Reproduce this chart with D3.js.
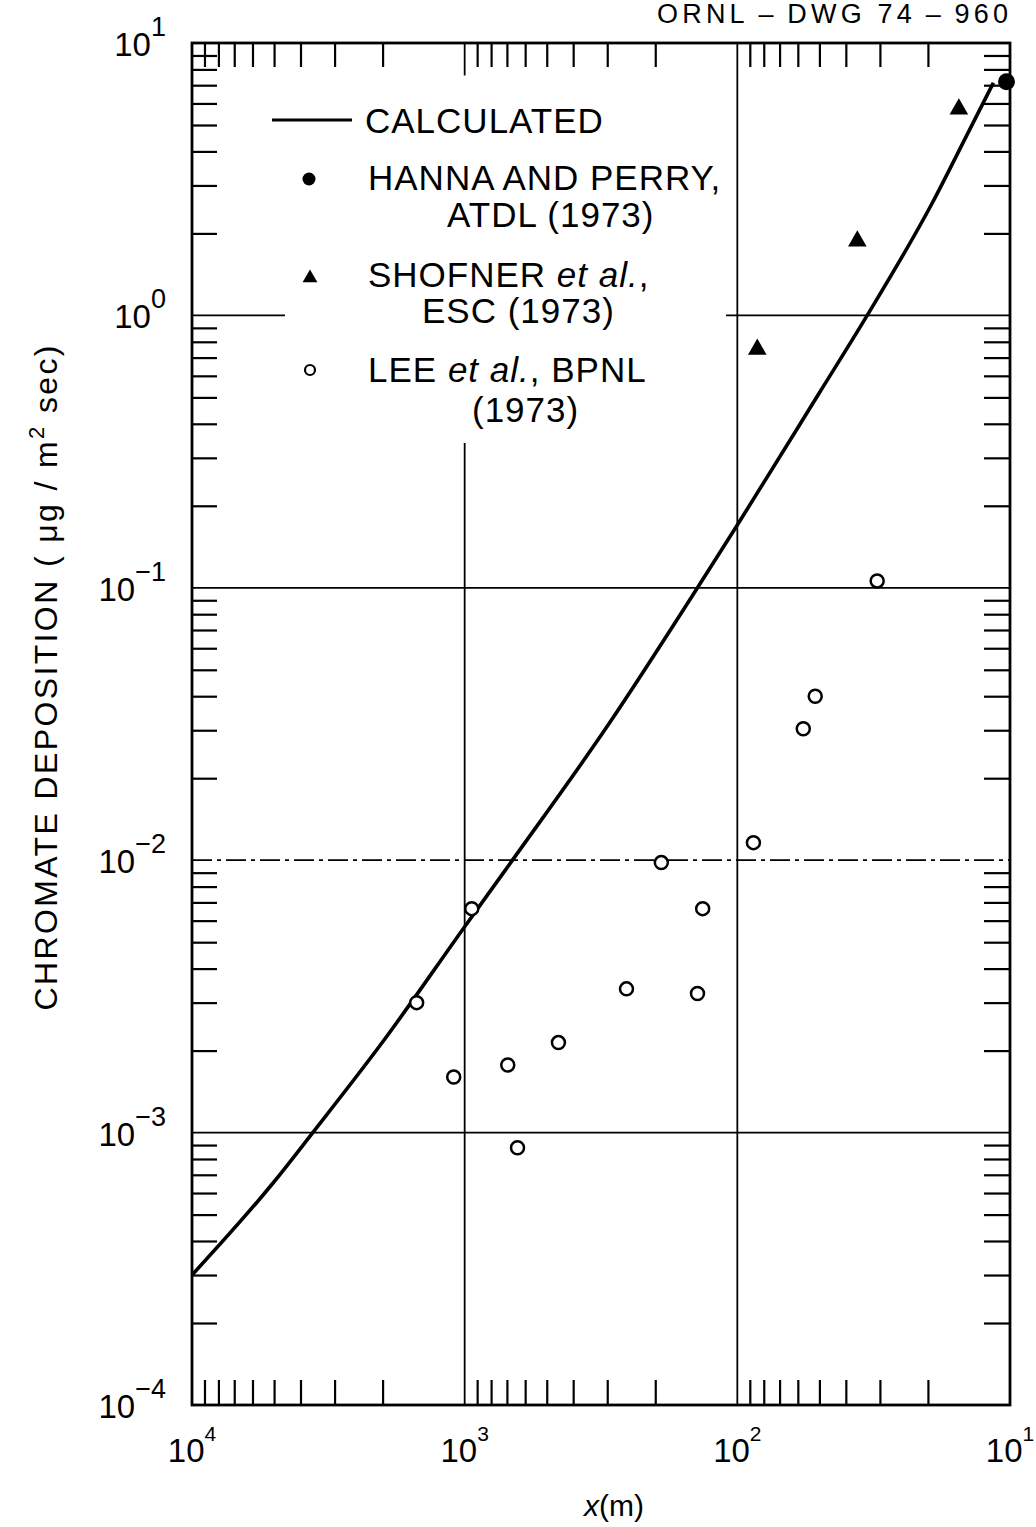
<!DOCTYPE html>
<html>
<head>
<meta charset="utf-8">
<script src="https://cdn.jsdelivr.net/npm/d3@7"></script>
<style>
  html, body { margin: 0; padding: 0; background: #fff; }
  svg { display: block; }
  text { font-family: "Liberation Sans", Arial, sans-serif; fill: #000; }
</style>
</head>
<body>
<svg id="chart" width="1036" height="1527"></svg>
<script>
// Calculated chromate deposition vs. downwind distance x (m)
const calcX = [10000, 5000, 3606, 2000, 1000, 673, 300, 140, 100, 50, 33.4, 19.3, 14.5, 11.5];
const calcY = [0.0003, 0.00066, 0.001, 0.00215, 0.0057, 0.0099, 0.031, 0.1, 0.17, 0.52, 1.0, 2.58, 4.52, 7.15];

// Hanna and Perry, ATDL (1973)
const hannaX = [10.3];
const hannaY = [7.2];

// Shofner et al., ESC (1973)
const shofnerX = [15.4, 36.3, 84.5];
const shofnerY = [5.77, 1.89, 0.757];

// Lee et al., BPNL (1973)
const leeX = [30.7, 51.8, 57.3, 87.3, 190, 942, 134, 1500, 255, 140, 453, 695, 1097, 640];
const leeY = [0.106, 0.040, 0.0304, 0.0116, 0.0098, 0.00664, 0.00664, 0.0030, 0.00337, 0.00324, 0.00214, 0.00177, 0.0016, 0.00088];

// Decade tick labels (exponents)
const xDecades = [4, 3, 2, 1];
const yDecades = [1, 0, -1, -2, -3, -4];

const svg = d3.select("#chart");

const X0 = 192, X1 = 1010, Y0 = 43, Y1 = 1405;
const x = d3.scaleLog().domain([1e4, 10]).range([X0, X1]);
const y = d3.scaleLog().domain([10, 1e-4]).range([Y0, Y1]);

const isDecade = v => Math.abs(Math.log10(v) - Math.round(Math.log10(v))) < 1e-9;
const xMinor = x.ticks().filter(v => !isDecade(v));
const yMinor = y.ticks().filter(v => !isDecade(v));

// Grid lines at selected decades
const grid = svg.append("g").attr("stroke", "#000").attr("fill", "none");
function hLine(v, xa, xb, dash) {
  const l = grid.append("line")
    .attr("x1", x(xa)).attr("x2", x(xb))
    .attr("y1", y(v)).attr("y2", y(v))
    .attr("stroke-width", 1.8);
  if (dash) l.attr("stroke-dasharray", dash);
}
function vLine(v, ya, yb) {
  grid.append("line")
    .attr("x1", x(v)).attr("x2", x(v))
    .attr("y1", y(ya)).attr("y2", y(yb))
    .attr("stroke-width", 1.8);
}
hLine(1, 1e4, 4560);
hLine(1, 110, 10);
hLine(0.1, 1e4, 10);
hLine(0.01, 1e4, 10, "20,5,4,5");
hLine(0.001, 1e4, 10);
vLine(1000, 0.34, 1e-4);
vLine(1000, 10, 7.6);
vLine(100, 10, 1e-4);

// Inward minor ticks on all four sides
function tickAxis(axis, tx, ty) {
  const g = svg.append("g").attr("transform", `translate(${tx},${ty})`).call(axis);
  g.select(".domain").remove();
  g.selectAll("text").remove();
  g.selectAll("line").attr("stroke", "#000").attr("stroke-width", 2.2);
}
tickAxis(d3.axisBottom(x).tickValues(xMinor).tickSize(-25).tickFormat(""), 0, Y1);
tickAxis(d3.axisTop(x).tickValues(xMinor).tickSize(-24).tickFormat(""), 0, Y0);
tickAxis(d3.axisLeft(y).tickValues(yMinor).tickSize(-25).tickFormat(""), X0, 0);
tickAxis(d3.axisRight(y).tickValues(yMinor).tickSize(-26).tickFormat(""), X1, 0);

// Plot frame
svg.append("rect")
  .attr("x", X0).attr("y", Y0)
  .attr("width", X1 - X0).attr("height", Y1 - Y0)
  .attr("fill", "none").attr("stroke", "#000").attr("stroke-width", 2.8);

// Decade labels
const xl = svg.append("g");
xDecades.forEach(e => {
  const t = xl.append("text")
    .attr("x", x(Math.pow(10, e))).attr("y", 1462)
    .attr("text-anchor", "middle")
    .style("font-size", "33px");
  t.append("tspan").text("10");
  t.append("tspan").attr("dy", -21).style("font-size", "21px").text(String(e));
});
const yl = svg.append("g");
yDecades.forEach(e => {
  const t = yl.append("text")
    .attr("x", 166).attr("y", y(Math.pow(10, e)) + 13)
    .attr("text-anchor", "end")
    .style("font-size", "33px");
  t.append("tspan").text("10");
  t.append("tspan").attr("dy", -20).style("font-size", "27px")
    .text(e < 0 ? "\u2212" + (-e) : String(e));
});

// Axis titles
const xt = svg.append("text")
  .attr("x", 614).attr("y", 1516)
  .attr("text-anchor", "middle")
  .style("font-size", "30px");
xt.append("tspan").style("font-style", "italic").text("x");
xt.append("tspan").text("(m)");

const yt = svg.append("text")
  .attr("transform", "translate(57,678) rotate(-90)")
  .attr("text-anchor", "middle")
  .attr("textLength", 665)
  .attr("lengthAdjust", "spacing")
  .style("font-size", "32px");
yt.append("tspan").text("CHROMATE DEPOSITION  ( \u03bcg / m");
yt.append("tspan").attr("dy", -13).style("font-size", "22px").text("2");
yt.append("tspan").attr("dy", 13).text(" sec)");

// Drawing number
svg.append("text")
  .attr("x", 657).attr("y", 23)
  .attr("textLength", 351)
  .attr("lengthAdjust", "spacing")
  .style("font-size", "27px")
  .text("ORNL\u2009\u2013\u2009DWG 74\u2009\u2013\u2009960");

// Calculated curve
const calc = calcX.map((v, i) => [v, calcY[i]]);
svg.append("path")
  .datum(calc)
  .attr("fill", "none").attr("stroke", "#000").attr("stroke-width", 3.6)
  .attr("d", d3.line().x(d => x(d[0])).y(d => y(d[1])).curve(d3.curveMonotoneX));

// Observations
const triangle = d3.symbol().type(d3.symbolTriangle);
svg.append("g").selectAll("path")
  .data(shofnerX.map((v, i) => [v, shofnerY[i]]))
  .join("path")
  .attr("d", triangle.size(150)())
  .attr("transform", d => `translate(${x(d[0])},${y(d[1]) + 1})`)
  .attr("fill", "#000");

svg.append("g").selectAll("circle")
  .data(hannaX.map((v, i) => [v, hannaY[i]]))
  .join("circle")
  .attr("cx", d => x(d[0])).attr("cy", d => y(d[1]))
  .attr("r", 8.5).attr("fill", "#000");

svg.append("g").selectAll("circle")
  .data(leeX.map((v, i) => [v, leeY[i]]))
  .join("circle")
  .attr("cx", d => x(d[0])).attr("cy", d => y(d[1]))
  .attr("r", 6.5).attr("fill", "#fff")
  .attr("stroke", "#000").attr("stroke-width", 2.5);

// Legend
const lg = svg.append("g").style("font-size", "35px").style("letter-spacing", "1px");
lg.append("line").attr("x1", 272).attr("x2", 352).attr("y1", 120).attr("y2", 120)
  .attr("stroke", "#000").attr("stroke-width", 3.2);
lg.append("text").attr("x", 365).attr("y", 133).text("CALCULATED");

lg.append("circle").attr("cx", 309).attr("cy", 179).attr("r", 6.5).attr("fill", "#000");
lg.append("text").attr("x", 368).attr("y", 190).text("HANNA AND PERRY,");
lg.append("text").attr("x", 447).attr("y", 227).text("ATDL (1973)");

lg.append("path").attr("d", triangle.size(95)()).attr("transform", "translate(310,278)").attr("fill", "#000");
const s1 = lg.append("text").attr("x", 368).attr("y", 287);
s1.append("tspan").text("SHOFNER ");
s1.append("tspan").style("font-style", "italic").text("et al.");
s1.append("tspan").text(",");
lg.append("text").attr("x", 422).attr("y", 323).text("ESC (1973)");

lg.append("circle").attr("cx", 310).attr("cy", 370).attr("r", 5).attr("fill", "#fff")
  .attr("stroke", "#000").attr("stroke-width", 2.2);
const s2 = lg.append("text").attr("x", 368).attr("y", 382);
s2.append("tspan").text("LEE ");
s2.append("tspan").style("font-style", "italic").text("et al.");
s2.append("tspan").text(", BPNL");
lg.append("text").attr("x", 472).attr("y", 422).text("(1973)");
</script>
</body>
</html>
